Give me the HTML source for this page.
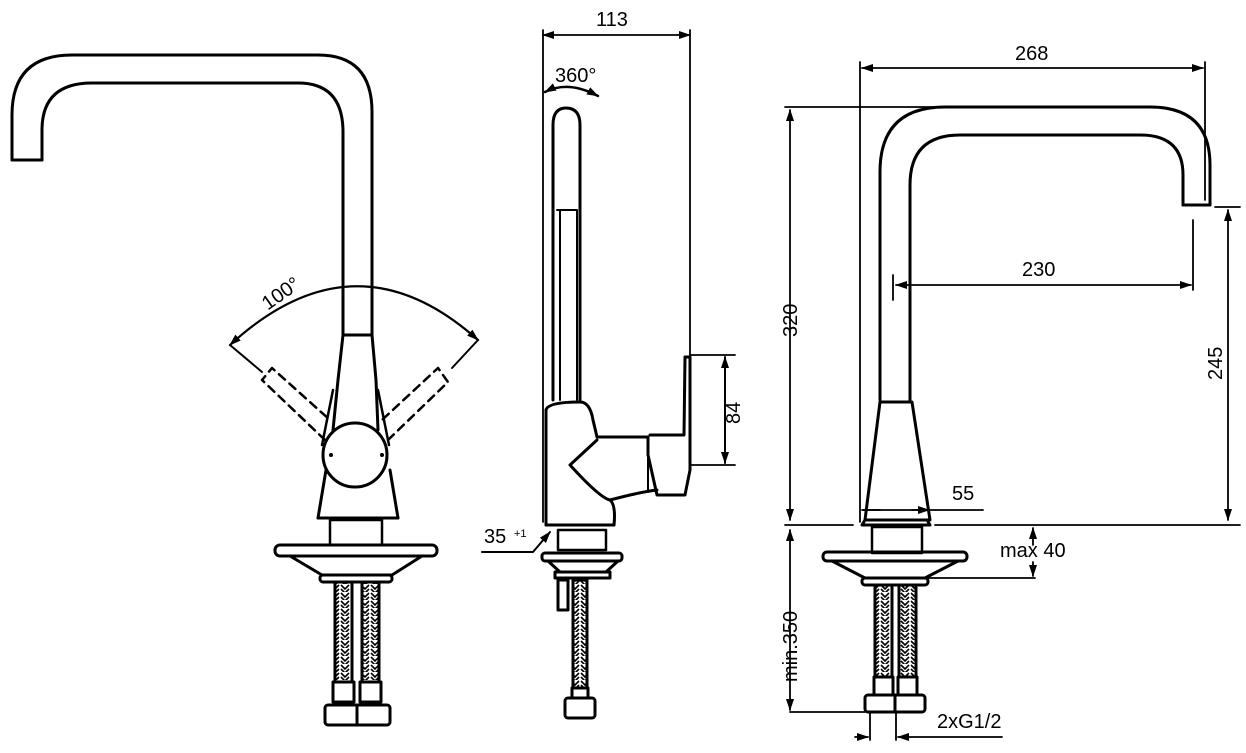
<!DOCTYPE html>
<html><head><meta charset="utf-8"><style>
html,body{margin:0;padding:0;background:#fff}
svg{display:block}
text{font-family:"Liberation Sans",sans-serif;font-size:20px;fill:#000}
</style></head><body>
<svg width="1246" height="753" viewBox="0 0 1246 753" xmlns="http://www.w3.org/2000/svg">
<defs>
<pattern id="hose" width="10" height="8" patternUnits="userSpaceOnUse">
<rect width="10" height="8" fill="#fff"/>
<path d="M1 1 L5 5 L9 1 M1 5 L5 9 L9 5" stroke="#000" stroke-width="1.6" fill="none"/>
</pattern>
<marker id="ar" markerWidth="12" markerHeight="8" refX="11" refY="4" orient="auto-start-reverse" markerUnits="userSpaceOnUse">
<path d="M0 0 L12 4 L0 8 Z" fill="#000"/>
</marker>
</defs>
<g fill="none" stroke="#000" stroke-width="3" stroke-linejoin="round" stroke-linecap="round">
<!-- LEFT VIEW -->
<path d="M12 160 L12 115 Q12 55 72 55 L318 55 Q372 55 372 112 L372 335"/>
<path d="M42 160 L42 130 Q42 83 92 83 L298 83 Q343 83 343 132 L343 335"/>
<path d="M12 160 L42 160"/>
<path d="M343 335 L372 335 L376 380 L378 430 M343 335 L338 380 L333 430"/>
<path d="M333 390 L322 445 M378 390 L389 445" stroke-width="2.5"/>
<circle cx="355" cy="455" r="32" fill="#fff"/>
<path d="M326 470 L318 518 L398 518 L390 470"/>
<path d="M318 518 L398 518"/>
<rect x="330" y="520" width="52" height="25" stroke-width="2.5"/>
<rect x="275" y="545" width="162" height="11" rx="5"/>
<path d="M290 556 L322 575 L392 575 L422 556"/>
<rect x="320" y="575" width="72" height="7" rx="3"/>
<rect x="335" y="582" width="17" height="100" fill="url(#hose)"/>
<rect x="362" y="582" width="17" height="100" fill="url(#hose)"/>
<rect x="333" y="682" width="21" height="20"/>
<rect x="360" y="682" width="21" height="20"/>
<rect x="325" y="705" width="65" height="20" rx="3"/>
<path d="M357 705 L357 725"/>
<g stroke-dasharray="8 6" stroke-width="2.5">
<path d="M325 440 L262 380 L272 368 L330 420"/>
<path d="M388 440 L448 382 L438 368 L382 420"/>
</g>
<path d="M230 345 Q355 230 478 340" stroke-width="2.2" marker-start="url(#ar)" marker-end="url(#ar)"/>
<path d="M230 345 L262 372 M478 340 L452 368" stroke-width="2"/>

<!-- MIDDLE VIEW -->
<path d="M543 30 L543 522 M690 30 L690 355" stroke-width="1.8"/>
<path d="M543 35 L690 35" stroke-width="1.8" marker-start="url(#ar)" marker-end="url(#ar)"/>
<path d="M553 400 L553 125 Q553 108 566 108 Q580 108 580 125 L580 400"/>
<path d="M557 210 L577 210 M560 400 L560 210 M577 210 L577 400" stroke-width="2"/>
<path d="M546 410 Q548 402 580 402 Q590 402 593 420 L597 437 L648 437 L648 455 L657 495 L685 495 L690 470 L690 357 L685 357 L684 435 L650 435"/>
<path d="M546 410 L546 525 L614 525 Q616 505 610 500 Q640 492 657 490 M597 440 L570 465 Q600 498 610 500" />
<path d="M648 437 L648 492" stroke-width="2"/>
<path d="M546 525 L614 525"/>
<rect x="558" y="530" width="48" height="20" stroke-width="2.5"/>
<rect x="542" y="553" width="80" height="8" rx="3"/>
<path d="M548 561 L560 572 L606 572 L618 561"/>
<rect x="555" y="572" width="55" height="6"/>
<rect x="558" y="580" width="10" height="30"/>
<rect x="573" y="580" width="14" height="108" fill="url(#hose)"/>
<rect x="572" y="688" width="16" height="10"/>
<rect x="565" y="698" width="30" height="20" rx="3"/>
<path d="M690 355 L735 355 M690 465 L735 465" stroke-width="1.8"/>
<path d="M725 357 L725 463" stroke-width="2" marker-start="url(#ar)" marker-end="url(#ar)"/>
<path d="M545 92 Q568 80 598 96" stroke-width="2.5" marker-start="url(#ar)" marker-end="url(#ar)"/>
<path d="M482 552 L533 552 L550 532" stroke-width="2" marker-end="url(#ar)"/>

<!-- RIGHT VIEW -->
<path d="M860 62 L860 522 M1205 62 L1205 200" stroke-width="1.8"/>
<path d="M862 68 L1203 68" stroke-width="1.8" marker-start="url(#ar)" marker-end="url(#ar)"/>
<path d="M880 400 L880 172 Q880 107 945 107 L1150 107 Q1210 107 1210 165 L1210 205"/>
<path d="M910 400 L910 185 Q910 135 960 135 L1140 135 Q1183 135 1183 175 L1183 205"/>
<path d="M1183 205 L1210 205"/>
<path d="M880 402 L912 402 L930 520 L865 520 Z"/>
<path d="M865 520 L862 525 L930 525 L927 520"/>
<path d="M785 107 L945 107 M1215 207 L1240 207" stroke-width="1.8"/>
<path d="M790 110 L790 520" stroke-width="1.8" marker-start="url(#ar)" marker-end="url(#ar)"/>
<path d="M1228 210 L1228 520" stroke-width="1.8" marker-start="url(#ar)" marker-end="url(#ar)"/>
<path d="M893 275 L893 300 M1193 220 L1193 290" stroke-width="1.8"/>
<path d="M896 285 L1191 285" stroke-width="1.8" marker-start="url(#ar)" marker-end="url(#ar)"/>
<path d="M785 525 L853 525 M935 525 L1240 525" stroke-width="1.8"/>
<path d="M862 510 L983 510" stroke-width="1.8"/>
<path d="M880 510 L863 510 M912 510 L929 510" stroke-width="1.8" marker-end="url(#ar)"/>
<rect x="872" y="527" width="50" height="26" stroke-width="2.5"/>
<rect x="823" y="552" width="144" height="9" rx="4"/>
<path d="M832 561 L865 578 L925 578 L958 561"/>
<rect x="862" y="578" width="66" height="7" rx="3"/>
<rect x="875" y="585" width="17" height="92" fill="url(#hose)"/>
<rect x="899" y="585" width="17" height="92" fill="url(#hose)"/>
<rect x="874" y="677" width="19" height="18"/>
<rect x="898" y="677" width="19" height="18"/>
<rect x="865" y="695" width="60" height="17" rx="3"/>
<path d="M895 695 L895 712"/>
<path d="M928 578 L1035 578" stroke-width="1.8"/>
<path d="M1033 545 L1033 528" stroke-width="1.8" marker-end="url(#ar)"/>
<path d="M1033 562 L1033 576" stroke-width="1.8" marker-end="url(#ar)"/>
<path d="M790 530 L790 710" stroke-width="1.8" marker-start="url(#ar)" marker-end="url(#ar)"/>
<path d="M790 712 L865 712 M870 712 L870 740 M896 712 L896 740" stroke-width="1.8"/>
<path d="M855 737 L868 737" stroke-width="1.8" marker-end="url(#ar)"/>
<path d="M1002 737 L898 737" stroke-width="1.8" marker-end="url(#ar)"/>
</g>
<g fill="#000" stroke="none">
<circle cx="331" cy="455" r="2"/><circle cx="382" cy="455" r="2"/>
</g>
<text x="258" y="300" transform="rotate(-35 280 290)">100°</text>
<text x="596" y="26">113</text>
<text x="555" y="82">360°</text>
<text x="484" y="543">35 </text><text x="514" y="537" style="font-size:11px">+1</text>
<text x="1015" y="60">268</text>
<text x="1022" y="276">230</text>
<text x="952" y="500">55</text>
<text x="1000" y="557">max 40</text>
<text x="937" y="728">2xG1/2</text>
<text transform="translate(797 337) rotate(-90)">320</text>
<text transform="translate(740 424) rotate(-90)">84</text>
<text transform="translate(1222 380) rotate(-90)">245</text>
<text transform="translate(797 682) rotate(-90)">min.350</text>
</svg>
</body></html>
